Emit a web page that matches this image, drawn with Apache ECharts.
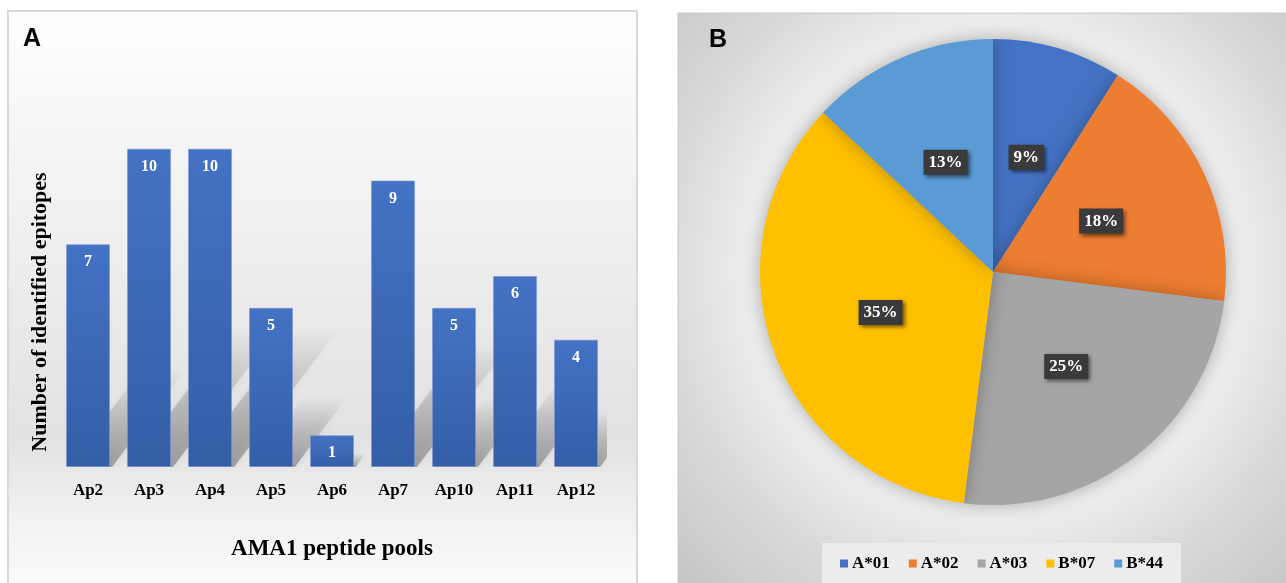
<!DOCTYPE html>
<html>
<head>
<meta charset="utf-8">
<script src="https://cdn.jsdelivr.net/npm/echarts@6/dist/echarts.min.js"></script>
<style>
  html, body { margin: 0; padding: 0; background: #ffffff; }
  #chart { width: 1286px; height: 583px; }
</style>
</head>
<body>
<div id="chart"></div>
<script>
// Panel A: epitopes identified per AMA1 peptide pool
const poolCategories = ['Ap2', 'Ap3', 'Ap4', 'Ap5', 'Ap6', 'Ap7', 'Ap10', 'Ap11', 'Ap12'];
const epitopeCounts = [7, 10, 10, 5, 1, 9, 5, 6, 4];

// Panel B: share of epitopes by HLA allele (percent)
const alleleNames = ['A*01', 'A*02', 'A*03', 'B*07', 'B*44'];
const allelePercents = [9, 18, 25, 35, 13];
const alleleColors = ['#4472c4', '#ed7d31', '#a5a5a5', '#ffc000', '#5b9bd5'];

const serif = '"Liberation Serif", "Times New Roman", serif';
const sans = '"Liberation Sans", Arial, sans-serif';

const chart = echarts.init(document.getElementById('chart'), null, { renderer: 'canvas' });

// soft perspective shadow cast behind each bar
function renderBarShadow(params, api) {
  const i = api.value(0);
  const v = api.value(1);
  const base = api.coord([i, 0]);
  const top = api.coord([i, v]);
  const h = base[1] - top[1];
  const half = api.size([1, 0])[0] * 0.72 / 2;
  const dx = h * 0.34;
  const dy = h * 0.44;
  return {
    type: 'polygon',
    shape: {
      points: [
        [base[0] - half + 2, base[1]],
        [base[0] + half + 2, base[1]],
        [base[0] + half + dx, base[1] - dy],
        [base[0] - half + dx, base[1] - dy]
      ]
    },
    style: {
      fill: new echarts.graphic.LinearGradient(0, 1, 0, 0, [
        { offset: 0, color: 'rgba(105,105,105,0.55)' },
        { offset: 0.6, color: 'rgba(120,120,120,0.25)' },
        { offset: 1, color: 'rgba(130,130,130,0)' }
      ]),
      shadowBlur: 8,
      shadowColor: 'rgba(120,120,120,0.35)'
    }
  };
}

const option = {
  animation: false,
  graphic: [
    // panel A frame
    {
      type: 'rect', z: -10,
      shape: { x: 8, y: 11, width: 629, height: 590 },
      style: {
        fill: new echarts.graphic.LinearGradient(0, 0, 0, 1, [
          { offset: 0, color: '#ffffff' },
          { offset: 0.15, color: '#f8f8f8' },
          { offset: 0.72, color: '#e2e2e2' },
          { offset: 0.86, color: '#f1f1f1' },
          { offset: 1, color: '#fdfdfd' }
        ]),
        stroke: '#d9d9d9', lineWidth: 2
      }
    },
    // panel B frame
    {
      type: 'rect', z: -10,
      shape: { x: 678, y: 13, width: 610, height: 575 },
      style: {
        fill: new echarts.graphic.RadialGradient(0.518, 0.45, 0.78, [
          { offset: 0, color: '#f1f1f1' },
          { offset: 0.55, color: '#ededed' },
          { offset: 0.72, color: '#dadada' },
          { offset: 1, color: '#c4c4c4' }
        ]),
        stroke: '#c8c8c8', lineWidth: 1
      }
    },
    {
      type: 'text', z: 100, left: 23, top: 27,
      style: { text: 'A', font: 'bold 25px ' + sans, fill: '#000000' }
    },
    {
      type: 'text', z: 100, left: 709, top: 28,
      style: { text: 'B', font: 'bold 25px ' + sans, fill: '#000000' }
    },
    {
      type: 'text', z: 100, x: 40, y: 312, rotation: Math.PI / 2,
      style: {
        text: 'Number of identified epitopes',
        font: 'bold 22px ' + serif, fill: '#000000',
        textAlign: 'center', textVerticalAlign: 'middle'
      }
    }
  ],
  grid: { left: 57.5, width: 549, top: 85, bottom: 116 },
  xAxis: {
    type: 'category',
    data: poolCategories,
    axisLine: { show: false },
    axisTick: { show: false },
    axisLabel: { margin: 15, color: '#000000', fontFamily: serif, fontWeight: 'bold', fontSize: 17 },
    name: 'AMA1 peptide pools',
    nameLocation: 'middle',
    nameGap: 71,
    nameTextStyle: { color: '#000000', fontFamily: serif, fontWeight: 'bold', fontSize: 23 }
  },
  yAxis: {
    type: 'value', min: 0, max: 12, interval: 2,
    show: false
  },
  legend: {
    data: alleleNames,
    left: 822, top: 543,
    padding: [12, 18, 12, 18],
    backgroundColor: '#ececec',
    icon: 'rect', itemWidth: 8, itemHeight: 8, itemGap: 19,
    textStyle: { color: '#000000', fontFamily: serif, fontWeight: 'bold', fontSize: 17, padding: [0, 0, 0, -1] }
  },
  series: [
    {
      type: 'custom',
      z: 1,
      clip: true,
      renderItem: renderBarShadow,
      data: epitopeCounts.map((v, i) => [i, v]),
      silent: true
    },
    {
      type: 'bar',
      z: 3,
      barWidth: 44,
      data: epitopeCounts,
      itemStyle: {
        color: new echarts.graphic.LinearGradient(0, 0, 0, 1, [
          { offset: 0, color: '#4472c4' },
          { offset: 1, color: '#345ea6' }
        ]),
        borderColor: 'rgba(120,150,215,0.6)', borderWidth: 1
      },
      label: {
        show: true, position: 'insideTop', distance: 10,
        color: '#ffffff', fontFamily: serif, fontWeight: 'bold', fontSize: 16
      }
    },
    {
      type: 'pie',
      center: [993, 272],
      radius: [0, 233],
      startAngle: 90,
      clockwise: true,
      data: alleleNames.map((n, i) => ({ name: n, value: allelePercents[i], itemStyle: { color: alleleColors[i] } })),
      itemStyle: { shadowBlur: 18, shadowColor: 'rgba(0,0,0,0.28)' },
      label: {
        show: true, position: 'inside',
        formatter: '{c}%',
        color: '#ffffff', fontFamily: serif, fontWeight: 'bold', fontSize: 17,
        backgroundColor: '#3a3a3a',
        padding: [4, 5, 4, 5],
        shadowBlur: 4, shadowColor: 'rgba(0,0,0,0.55)', shadowOffsetX: 2, shadowOffsetY: 2
      },
      labelLine: { show: false },
      emphasis: { disabled: true }
    }
  ]
};

chart.setOption(option);
</script>
</body>
</html>
